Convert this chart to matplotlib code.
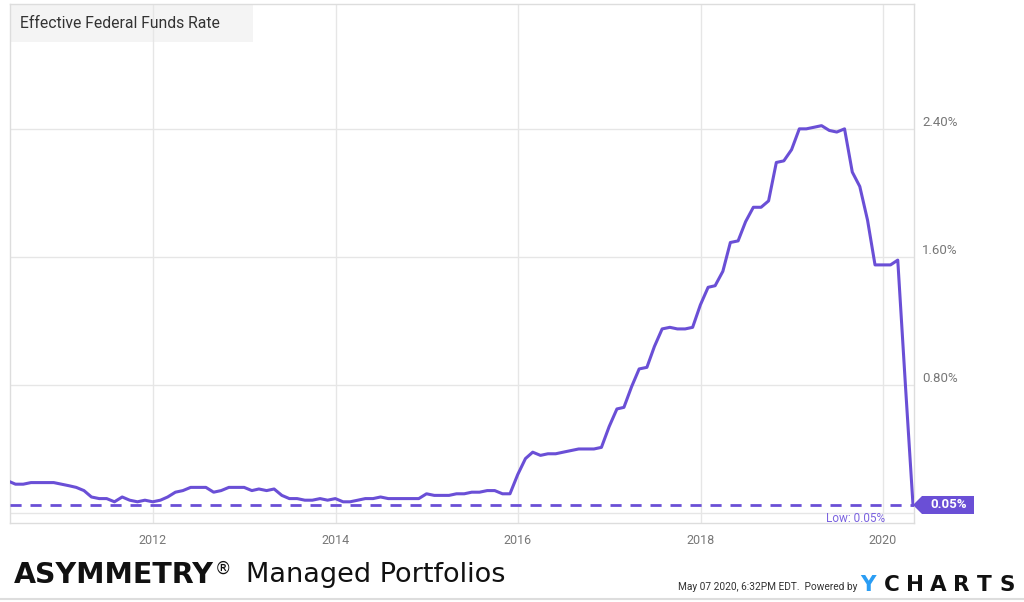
import matplotlib
matplotlib.use("Agg")
import matplotlib.pyplot as plt
import matplotlib.dates as mdates
from matplotlib.patches import Polygon, Rectangle
from matplotlib.lines import Line2D
import pandas as pd
import numpy as np

# monthly effective federal funds rate (%), month-end dates
start_month = "2010-04-30"
rates = [
    0.20, 0.20, 0.18, 0.18, 0.19, 0.19, 0.19, 0.19, 0.18,           # Apr-Dec 2010
    0.17, 0.16, 0.14, 0.10, 0.09, 0.09, 0.07, 0.10, 0.08, 0.07, 0.08, 0.07,  # 2011
    0.08, 0.10, 0.13, 0.14, 0.16, 0.16, 0.16, 0.13, 0.14, 0.16, 0.16, 0.16,  # 2012
    0.14, 0.15, 0.14, 0.15, 0.11, 0.09, 0.09, 0.08, 0.08, 0.09, 0.08, 0.09,  # 2013
    0.07, 0.07, 0.08, 0.09, 0.09, 0.10, 0.09, 0.09, 0.09, 0.09, 0.09, 0.12,  # 2014
    0.11, 0.11, 0.11, 0.12, 0.12, 0.13, 0.13, 0.14, 0.14, 0.12, 0.12, 0.24,  # 2015
    0.34, 0.38, 0.36, 0.37, 0.37, 0.38, 0.39, 0.40, 0.40, 0.40, 0.41, 0.54,  # 2016
    0.65, 0.66, 0.79, 0.90, 0.91, 1.04, 1.15, 1.16, 1.15, 1.15, 1.16, 1.30,  # 2017
    1.41, 1.42, 1.51, 1.69, 1.70, 1.82, 1.91, 1.91, 1.95, 2.19, 2.20, 2.27,  # 2018
    2.40, 2.40, 2.41, 2.42, 2.39, 2.38, 2.40, 2.13, 2.04, 1.83, 1.55, 1.55,  # 2019
    1.55, 1.58, 0.79, 0.05,                                           # 2020
]
dates = pd.date_range(start_month, periods=len(rates), freq="ME")
low_value = 0.05

year_ticks = [pd.Timestamp(f"{y}-01-01") for y in (2012, 2014, 2016, 2018, 2020)]
year_labels = ["2012", "2014", "2016", "2018", "2020"]
y_ticks = [0.0, 0.8, 1.6, 2.4]
y_labels = ["", "0.80%", "1.60%", "2.40%"]

purple = "#6a4fd6"
grid_c = "#e6e6e6"

fig = plt.figure(figsize=(10.24, 6.02), dpi=100)
W, H = 1024, 602
ax = fig.add_axes([10 / W, 1 - 523 / H, (914 - 10) / W, (523 - 4) / H])

ax.plot(dates, rates, color=purple, lw=2.2, zorder=4, solid_joinstyle="round")
ax.axhline(low_value, color=purple, lw=2, ls=(0, (4, 3.2)), zorder=3)

ax.set_xlim(pd.Timestamp("2010-06-08"), pd.Timestamp("2020-05-04"))
ax.set_ylim(-0.0625, 3.18)

ax.set_xticks(year_ticks, year_labels)
ax.set_yticks(y_ticks, y_labels)
ax.grid(True, color=grid_c, lw=1, zorder=1)
ax.set_axisbelow(True)
ax.tick_params(axis="x", length=0, pad=8, labelsize=9, labelcolor="#777777")
ax.tick_params(axis="y", length=0, pad=6, labelsize=9.5, labelcolor="#777777",
               labelleft=False, labelright=True)
for lbl in ax.get_yticklabels():
    lbl.set_va("bottom")
    lbl.set_family("Roboto")
for lbl in ax.get_xticklabels():
    lbl.set_family("Roboto")
for s in ax.spines.values():
    s.set_color("#dddddd")
    s.set_linewidth(1)

# title box
ax.add_patch(Rectangle((0, 1 - 38 / 519), 243 / 904, 38 / 519, transform=ax.transAxes,
                       facecolor="#f4f4f4", edgecolor="none", zorder=0.5))
ax.text(10 / 904, 1 - 19 / 519, "Effective Federal Funds Rate", transform=ax.transAxes,
        fontsize=11.3, color="#333333", family="Roboto", va="center", ha="left", zorder=5)

# low label
ax.annotate("Low: 0.05%", xy=(0.968, low_value), xycoords=ax.get_yaxis_transform(),
            xytext=(0, -5), textcoords="offset points",
            fontsize=8.5, color="#7b63e0", family="Roboto", ha="right", va="top", zorder=5)

# last-value tag
fig.canvas.draw()
px, py = ax.transData.transform((mdates.date2num(dates[-1]), rates[-1]))
tag = Polygon([(px, py), (px + 9, py + 9), (px + 61, py + 9),
               (px + 61, py - 9), (px + 9, py - 9)], closed=True,
              transform=None, facecolor=purple, edgecolor="none", zorder=6)
fig.add_artist(tag)
fig.text((px + 36) / W, py / H, "0.05%", color="white", fontsize=9.5,
         fontweight="bold", family="Roboto", ha="center", va="center", zorder=7)

# footer
fig.text(14 / W, 1 - 575 / H, "ASYMMETRY", fontsize=20.5, fontweight="bold",
         family="DejaVu Sans", color="#111111", ha="left", va="center")
fig.text(215 / W, 1 - 569 / H, "\u00ae", fontsize=12,
         family="DejaVu Sans", color="#111111", ha="left", va="center")
fig.text(246 / W, 1 - 575 / H, "Managed Portfolios", fontsize=19.5,
         family="DejaVu Sans", color="#111111", ha="left", va="center")
fig.text(857 / W, 1 - 587 / H, "May 07 2020, 6:32PM EDT.  Powered by", fontsize=7.3,
         family="Roboto", color="#333333", ha="right", va="center")
fig.text(860 / W, 1 - 585 / H, "Y", fontsize=15.5, fontweight="bold",
         family="DejaVu Sans", color="#2a9df4", ha="left", va="center")
for i, ch in enumerate("CHARTS"):
    fig.text((892 + i * 23.0) / W, 1 - 585 / H, ch, fontsize=15.5, fontweight="bold",
             family="DejaVu Sans", color="#111111", ha="center", va="center")
fig.add_artist(Line2D([0, 1], [1 - 599 / H, 1 - 599 / H], color="#dddddd", lw=1.5))

fig.savefig("out.png", dpi=100)
